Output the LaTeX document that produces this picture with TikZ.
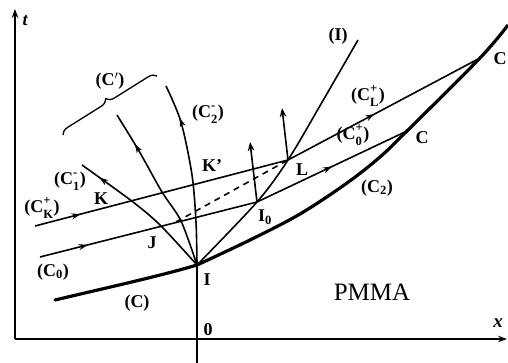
\documentclass[tikz,border=0pt]{standalone}
\usepackage{fontspec}
\usepackage{amsmath}
\setmainfont{Liberation Serif}
\usetikzlibrary{arrows.meta,decorations.markings,decorations.pathreplacing}
\newcommand{\Csx}[2]{(C${}^{\text{\raisebox{1.5pt}{\bfseries #1}}}_{\text{\raisebox{-1.5pt}{\bfseries #2}}}$)}
\newcommand{\Csb}[1]{(C${}_{\text{\bfseries #1}}$)}
\begin{document}
\begin{tikzpicture}[x=1pt,y=-1pt,
  ax/.style={line width=1.4pt},
  ln/.style={line width=1.6pt},
  thk/.style={line width=3.2pt},
  lab/.style={font=\fontsize{18}{18}\selectfont\bfseries, inner sep=0pt},
  tip/.style={-{Stealth[length=9pt,width=6.5pt]}},
  midarr/.style={postaction={decorate},decoration={markings,mark=at position #1 with {\arrow{Stealth[length=9pt,width=6pt]}}}},
]
\path[use as bounding box] (0,0) rectangle (508,363);

% key points
\coordinate (O) at (197,339);
\coordinate (I) at (197,265);
\coordinate (I0) at (257,202);
\coordinate (L) at (288,160);
\coordinate (Clow) at (407,131);
\coordinate (Cup) at (480,58);
\coordinate (tend) at (15,9);
\coordinate (xend) at (507,339);
\coordinate (ax0) at (15,339);
\coordinate (bot) at (197,363);

% axes
\draw[ax, tip] (ax0) -- (tend);
\draw[ax, tip] (ax0) -- (xend);
\draw[ax] (bot) -- (I);

% thick curve (C) and (C2)
\draw[thk, line cap=round] (55,300) .. controls (110,287) and (160,276) .. (I);
\draw[thk] plot[smooth, tension=0.55] coordinates {(I) (250,240) (300,214) (347,183) (380,157) (Clow) (Cup) (508,25)};

% (C0) line and (C0+)
\draw[ln, midarr=0.22] (40,257) -- (I0);
\draw[ln, midarr=0.5] (I0) -- (Clow);
% (CK+) line and (CL+)
\draw[ln, midarr=0.18] (35,226) -- (L);
\draw[ln, midarr=0.45] (L) -- (Cup);

% fan from I
\draw[ln, midarr=0.86] plot[smooth] coordinates {(I) (161,226) (133,202) (82,165)};
\draw[ln, midarr=0.8] plot[smooth] coordinates {(I) (181,221) (162,192) (139,151) (117,115)};
\draw[ln, midarr=0.81] plot[smooth] coordinates {(I) (196,222) (192,175) (181,122) (166,86)};

% (I) curve
\draw[ln] plot[smooth] coordinates {(I) (I0) (L) (321,104) (358,40)};

% dashed
\draw[ln, dashed, dash pattern=on 6pt off 5pt] (176,222) -- (L);

% normal arrows
\draw[ln, tip] (I0) -- (250,142);
\draw[ln, tip] (L) -- (282,108);

% brace
\draw[line width=1.3pt, decorate, decoration={brace, amplitude=8pt}] (63,135) -- (157,76);

% labels
\node[lab, font=\fontsize{18}{18}\selectfont\bfseries\itshape] (lt) at (25,21) {t};
\node[lab, font=\fontsize{19}{19}\selectfont\bfseries\itshape] (lx) at (498,323) {x};
\node[lab] (lCp) at (110,81) {(C$'$)};
\node[lab] (lC2m) at (208,114) {\Csx{-}{2}};
\node[lab] (lKp) at (212,166) {K'};
\node[lab] (lC1m) at (70,181) {\Csx{-}{1}};
\node[lab] (lK) at (101,199) {K};
\node[lab] (lCKp) at (42,208) {\Csx{+}{K}};
\node[lab] (lJ) at (152,243) {J};
\node[lab] (lC0) at (53,272) {\Csb{0}};
\node[lab] (lI) at (207,280) {I};
\node[lab] (lC) at (137,303) {(C)};
\node[lab] (l0) at (208,330) {0};
\node[lab] (lI0) at (265,217) {I${}_{\text{\bfseries 0}}$};
\node[lab] (lL) at (302,170) {L};
\node[lab] (lC2) at (377,188) {\Csb{2}};
\node[lab] (lC0p) at (353,135) {\Csx{+}{0}};
\node[lab] (lCLp) at (368,96) {\Csx{+}{L}};
\node[lab] (lClow) at (422,138) {C};
\node[lab] (lCup) at (500,59) {C};
\node[lab] (lIc) at (338,36) {(I)};
\node[inner sep=0pt, font=\fontsize{25}{25}\selectfont] (pm) at (372,292) {PMMA};
\end{tikzpicture}
\end{document}
